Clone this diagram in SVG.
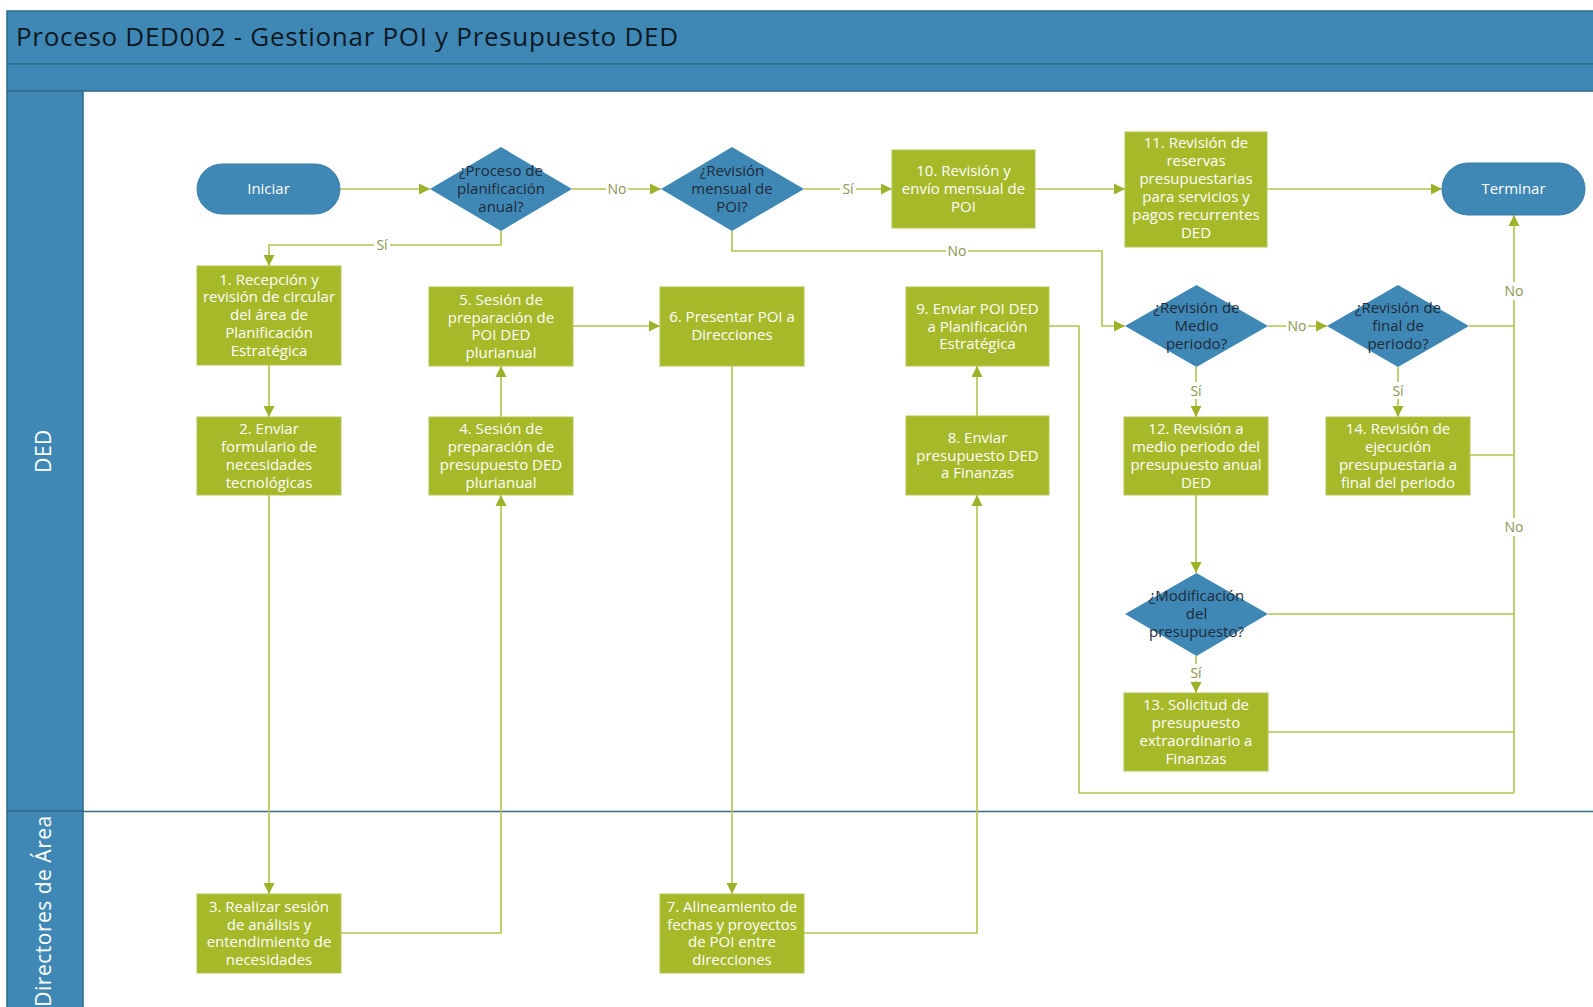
<svg xmlns="http://www.w3.org/2000/svg" width="1593" height="1007" viewBox="0 0 1593 1007">
<style>
.band{fill:#3F88B5;stroke:#2F6A8E;stroke-width:1.5}
.task{fill:#A5B929;stroke:#B7C652;stroke-width:1}
.dec{fill:#3F88B5}
.term{fill:#3F88B5;stroke:#3A7FAB;stroke-width:1}
.tt{font-family:"Open Sans","Noto Sans",sans-serif;font-size:15px;fill:#FFFFFF;text-anchor:middle}
.dt{font-family:"Open Sans","Noto Sans",sans-serif;font-size:15px;fill:#1E2A38;text-anchor:middle}
.lane{font-family:"Open Sans","Noto Sans",sans-serif;font-size:21px;fill:#FFFFFF;text-anchor:middle;letter-spacing:0.5px}
.title{font-family:"Open Sans","Noto Sans",sans-serif;font-size:26px;fill:#0E1822}
.ln{fill:none;stroke:#B3C34D;stroke-width:1.6}
.lb{font-family:"Open Sans","Noto Sans",sans-serif;font-size:14px;fill:#8A9550;text-anchor:middle}
.lbg{fill:#FFFFFF}
</style>
<defs>
<marker id="ah" markerUnits="userSpaceOnUse" markerWidth="12" markerHeight="12" refX="11" refY="6" orient="auto">
<path d="M0,0.5 L11,6 L0,11.5 z" fill="#9DB12A"/>
</marker>
</defs>
<rect x="0" y="0" width="1593" height="1007" fill="#FFFFFF"/>
<g id="pool">
<rect class="band" x="7" y="11" width="1590" height="53"/>
<rect class="band" x="7" y="64" width="1590" height="27"/>
<rect class="band" x="7" y="91" width="76" height="720"/>
<rect class="band" x="7" y="811" width="76" height="200"/>
<line x1="83" y1="811.5" x2="1593" y2="811.5" stroke="#3A6B85" stroke-width="1.5"/>
<text class="title" x="16" y="46" textLength="662" lengthAdjust="spacing">Proceso DED002 - Gestionar POI y Presupuesto DED</text>
<text class="lane" transform="translate(51,451) rotate(-90)">DED</text>
<text class="lane" transform="translate(51,911) rotate(-90)">Directores de Área</text>
</g>
<g id="connectors">
<path class="ln" d="M340,189 H430" marker-end="url(#ah)"/>
<path class="ln" d="M572,189 H661" marker-end="url(#ah)"/>
<path class="ln" d="M804,189 H892" marker-end="url(#ah)"/>
<path class="ln" d="M1035,189 H1125" marker-end="url(#ah)"/>
<path class="ln" d="M1267,189 H1442" marker-end="url(#ah)"/>
<path class="ln" d="M501,231 V245 H269 V266" marker-end="url(#ah)"/>
<path class="ln" d="M732,231 V251 H1102 V326 H1125" marker-end="url(#ah)"/>
<path class="ln" d="M1268,326 H1327" marker-end="url(#ah)"/>
<path class="ln" d="M1469,326 H1514"/>
<path class="ln" d="M1196,367 V417" marker-end="url(#ah)"/>
<path class="ln" d="M1398,367 V417" marker-end="url(#ah)"/>
<path class="ln" d="M1196,495 V573" marker-end="url(#ah)"/>
<path class="ln" d="M1196,656 V693" marker-end="url(#ah)"/>
<path class="ln" d="M1268,614 H1514"/>
<path class="ln" d="M1268,732 H1514"/>
<path class="ln" d="M1470,455 H1514"/>
<path class="ln" d="M1049,326 H1079 V793 H1514"/>
<path class="ln" d="M1514,793 V215" marker-end="url(#ah)"/>
<path class="ln" d="M269,365 V417" marker-end="url(#ah)"/>
<path class="ln" d="M269,495 V894" marker-end="url(#ah)"/>
<path class="ln" d="M341,933 H501 V495" marker-end="url(#ah)"/>
<path class="ln" d="M501,417 V366" marker-end="url(#ah)"/>
<path class="ln" d="M573,326 H660" marker-end="url(#ah)"/>
<path class="ln" d="M732,366 V894" marker-end="url(#ah)"/>
<path class="ln" d="M804,933 H977 V495" marker-end="url(#ah)"/>
<path class="ln" d="M977,416 V366" marker-end="url(#ah)"/>
<rect class="lbg" x="606" y="181" width="22" height="16"/><text class="lb" x="617" y="194">No</text>
<rect class="lbg" x="840" y="181" width="16" height="16"/><text class="lb" x="848" y="194">Sí</text>
<rect class="lbg" x="374" y="237" width="16" height="16"/><text class="lb" x="382" y="250">Sí</text>
<rect class="lbg" x="946" y="243" width="22" height="16"/><text class="lb" x="957" y="256">No</text>
<rect class="lbg" x="1286" y="318" width="22" height="16"/><text class="lb" x="1297" y="331">No</text>
<rect class="lbg" x="1188" y="382" width="16" height="17"/><text class="lb" x="1196" y="396">Sí</text>
<rect class="lbg" x="1390" y="382" width="16" height="17"/><text class="lb" x="1398" y="396">Sí</text>
<rect class="lbg" x="1188" y="664" width="16" height="17"/><text class="lb" x="1196" y="678">Sí</text>
<rect class="lbg" x="1502" y="282" width="24" height="18"/><text class="lb" x="1514" y="296">No</text>
<rect class="lbg" x="1502" y="518" width="24" height="18"/><text class="lb" x="1514" y="532">No</text>
</g>
<g id="n-iniciar"><rect class="term" x="197" y="164" width="143" height="50" rx="25"/><text class="tt" x="268.5" y="194">Iniciar</text></g>
<g id="n-terminar"><rect class="term" x="1442" y="163" width="143" height="52" rx="26"/><text class="tt" x="1513.5" y="194">Terminar</text></g>
<g id="d1"><polygon class="dec" points="430,189 501,147 572,189 501,231"/><text class="dt"><tspan x="501" y="176">¿Proceso de</tspan><tspan x="501" y="194">planificación</tspan><tspan x="501" y="212">anual?</tspan></text></g>
<g id="d2"><polygon class="dec" points="661,189 732,147 804,189 732,231"/><text class="dt"><tspan x="732" y="176">¿Revisión</tspan><tspan x="732" y="194">mensual de</tspan><tspan x="732" y="212">POI?</tspan></text></g>
<g id="d3"><polygon class="dec" points="1125,326 1196.5,285 1268,326 1196.5,367"/><text class="dt"><tspan x="1196.5" y="313">¿Revisión de</tspan><tspan x="1196.5" y="331">Medio</tspan><tspan x="1196.5" y="349">periodo?</tspan></text></g>
<g id="d4"><polygon class="dec" points="1327,326 1398,285 1469,326 1398,367"/><text class="dt"><tspan x="1398" y="313">¿Revisión de</tspan><tspan x="1398" y="331">final de</tspan><tspan x="1398" y="349">periodo?</tspan></text></g>
<g id="d5"><polygon class="dec" points="1125,614 1196.5,573 1268,614 1196.5,656"/><text class="dt"><tspan x="1196.5" y="601">¿Modificación</tspan><tspan x="1196.5" y="619">del</tspan><tspan x="1196.5" y="637">presupuesto?</tspan></text></g>
<g id="n1"><rect class="task" x="197" y="266" width="144" height="99"/><text class="tt"><tspan x="269" y="284.5">1. Recepción y</tspan><tspan x="269" y="302.3">revisión de circular</tspan><tspan x="269" y="320.1">del área de</tspan><tspan x="269" y="337.9">Planificación</tspan><tspan x="269" y="355.7">Estratégica</tspan></text></g>
<g id="n2"><rect class="task" x="197" y="417" width="144" height="78"/><text class="tt"><tspan x="269" y="434.3">2. Enviar</tspan><tspan x="269" y="452.1">formulario de</tspan><tspan x="269" y="469.9">necesidades</tspan><tspan x="269" y="487.7">tecnológicas</tspan></text></g>
<g id="n3"><rect class="task" x="197" y="894" width="144" height="79"/><text class="tt"><tspan x="269" y="911.8">3. Realizar sesión</tspan><tspan x="269" y="929.6">de análisis y</tspan><tspan x="269" y="947.4">entendimiento de</tspan><tspan x="269" y="965.2">necesidades</tspan></text></g>
<g id="n4"><rect class="task" x="429" y="417" width="144" height="78"/><text class="tt"><tspan x="501" y="434.3">4. Sesión de</tspan><tspan x="501" y="452.1">preparación de</tspan><tspan x="501" y="469.9">presupuesto DED</tspan><tspan x="501" y="487.7">plurianual</tspan></text></g>
<g id="n5"><rect class="task" x="429" y="287" width="144" height="79"/><text class="tt"><tspan x="501" y="304.8">5. Sesión de</tspan><tspan x="501" y="322.6">preparación de</tspan><tspan x="501" y="340.4">POI DED</tspan><tspan x="501" y="358.2">plurianual</tspan></text></g>
<g id="n6"><rect class="task" x="660" y="287" width="144" height="79"/><text class="tt"><tspan x="732" y="322.1">6. Presentar POI a</tspan><tspan x="732" y="339.9">Direcciones</tspan></text></g>
<g id="n7"><rect class="task" x="660" y="894" width="144" height="79"/><text class="tt"><tspan x="732" y="911.8">7. Alineamiento de</tspan><tspan x="732" y="929.6">fechas y proyectos</tspan><tspan x="732" y="947.4">de POI entre</tspan><tspan x="732" y="965.2">direcciones</tspan></text></g>
<g id="n8"><rect class="task" x="906" y="416" width="143" height="79"/><text class="tt"><tspan x="977.5" y="442.7">8. Enviar</tspan><tspan x="977.5" y="460.5">presupuesto DED</tspan><tspan x="977.5" y="478.3">a Finanzas</tspan></text></g>
<g id="n9"><rect class="task" x="906" y="287" width="143" height="79"/><text class="tt"><tspan x="977.5" y="313.7">9. Enviar POI DED</tspan><tspan x="977.5" y="331.5">a Planificación</tspan><tspan x="977.5" y="349.3">Estratégica</tspan></text></g>
<g id="n10"><rect class="task" x="892" y="150" width="143" height="78"/><text class="tt"><tspan x="963.5" y="176.2">10. Revisión y</tspan><tspan x="963.5" y="194">envío mensual de</tspan><tspan x="963.5" y="211.8">POI</tspan></text></g>
<g id="n11"><rect class="task" x="1125" y="132" width="142" height="115"/><text class="tt"><tspan x="1196" y="148">11. Revisión de</tspan><tspan x="1196" y="166">reservas</tspan><tspan x="1196" y="184">presupuestarias</tspan><tspan x="1196" y="202">para servicios y</tspan><tspan x="1196" y="220">pagos recurrentes</tspan><tspan x="1196" y="238">DED</tspan></text></g>
<g id="n12"><rect class="task" x="1124" y="417" width="144" height="78"/><text class="tt"><tspan x="1196" y="434.3">12. Revisión a</tspan><tspan x="1196" y="452.1">medio periodo del</tspan><tspan x="1196" y="469.9">presupuesto anual</tspan><tspan x="1196" y="487.7">DED</tspan></text></g>
<g id="n13"><rect class="task" x="1124" y="693" width="144" height="78"/><text class="tt"><tspan x="1196" y="710.3">13. Solicitud de</tspan><tspan x="1196" y="728.1">presupuesto</tspan><tspan x="1196" y="745.9">extraordinario a</tspan><tspan x="1196" y="763.7">Finanzas</tspan></text></g>
<g id="n14"><rect class="task" x="1326" y="417" width="144" height="78"/><text class="tt"><tspan x="1398" y="434.3">14. Revisión de</tspan><tspan x="1398" y="452.1">ejecución</tspan><tspan x="1398" y="469.9">presupuestaria a</tspan><tspan x="1398" y="487.7">final del periodo</tspan></text></g>
</svg>
